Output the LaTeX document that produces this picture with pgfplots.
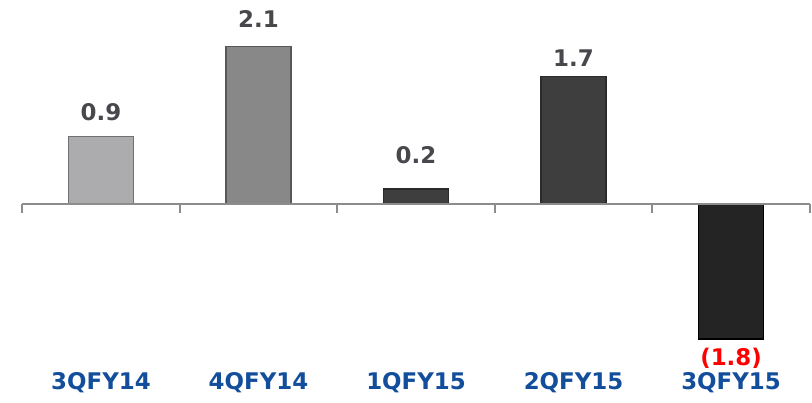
\documentclass[border=0pt]{standalone}
\usepackage{pgfplots}
\pgfplotsset{compat=1.18}
\usepackage{fontspec}
\setmainfont{DejaVu Sans}
\newfontfamily\labfont{DejaVu Sans Bold}
\definecolor{catblue}{RGB}{18,78,155}
\definecolor{lblgray}{RGB}{72,72,76}
\definecolor{axgray}{RGB}{140,140,140}
\definecolor{barA}{RGB}{172,172,174}
\definecolor{barB}{RGB}{136,136,136}
\definecolor{barC}{RGB}{62,62,62}
\definecolor{barD}{RGB}{36,36,36}
\tikzset{lab/.style={font=\labfont\fontsize{23}{25}\selectfont}}
\begin{document}
\begin{tikzpicture}
\useasboundingbox (0,0) rectangle (812bp,403bp);
\begin{axis}[
  at={(0,0)}, anchor=south west,
  scale only axis, width=812bp, height=403bp,
  hide axis, clip=false,
  xmin=-0.6413, xmax=4.514,
  ymin=-2.6533, ymax=2.72,
  ybar, bar width=65bp, bar shift=0pt,
]
\addplot[fill=barA, draw=barA!65!black, line width=1.2pt] coordinates {(0,0.9)};
\addplot[fill=barB, draw=barB!65!black, line width=1.2pt] coordinates {(1,2.1)};
\addplot[fill=barC, draw=barC!70!black, line width=1.2pt] coordinates {(2,0.2)};
\addplot[fill=barC, draw=barC!70!black, line width=1.2pt] coordinates {(3,1.7)};
\addplot[fill=barD, draw=black, line width=1.2pt] coordinates {(4,-1.8)};
% axis line and ticks
\draw[axgray, line width=1.8bp] (axis cs:-0.5,0) -- (axis cs:4.5,0);
\draw[axgray, line width=1.8bp] (axis cs:-0.5,0) -- (axis cs:-0.5,-0.12);
\draw[axgray, line width=1.8bp] (axis cs:0.5,0) -- (axis cs:0.5,-0.12);
\draw[axgray, line width=1.8bp] (axis cs:1.5,0) -- (axis cs:1.5,-0.12);
\draw[axgray, line width=1.8bp] (axis cs:2.5,0) -- (axis cs:2.5,-0.12);
\draw[axgray, line width=1.8bp] (axis cs:3.5,0) -- (axis cs:3.5,-0.12);
\draw[axgray, line width=1.8bp] (axis cs:4.5,0) -- (axis cs:4.5,-0.12);
% data labels
\node[text=lblgray, lab] at (axis cs:0,1.22) {0.9};
\node[text=lblgray, lab] at (axis cs:1,2.467) {2.1};
\node[text=lblgray, lab] at (axis cs:2,0.647) {0.2};
\node[text=lblgray, lab] at (axis cs:3,1.94) {1.7};
\node[text=red, lab] at (axis cs:4,-2.053) {(1.8)};
% category labels
\node[text=catblue, lab] at (axis cs:0,-2.387) {3QFY14};
\node[text=catblue, lab] at (axis cs:1,-2.387) {4QFY14};
\node[text=catblue, lab] at (axis cs:2,-2.387) {1QFY15};
\node[text=catblue, lab] at (axis cs:3,-2.387) {2QFY15};
\node[text=catblue, lab] at (axis cs:4,-2.387) {3QFY15};
\end{axis}
\end{tikzpicture}
\end{document}
